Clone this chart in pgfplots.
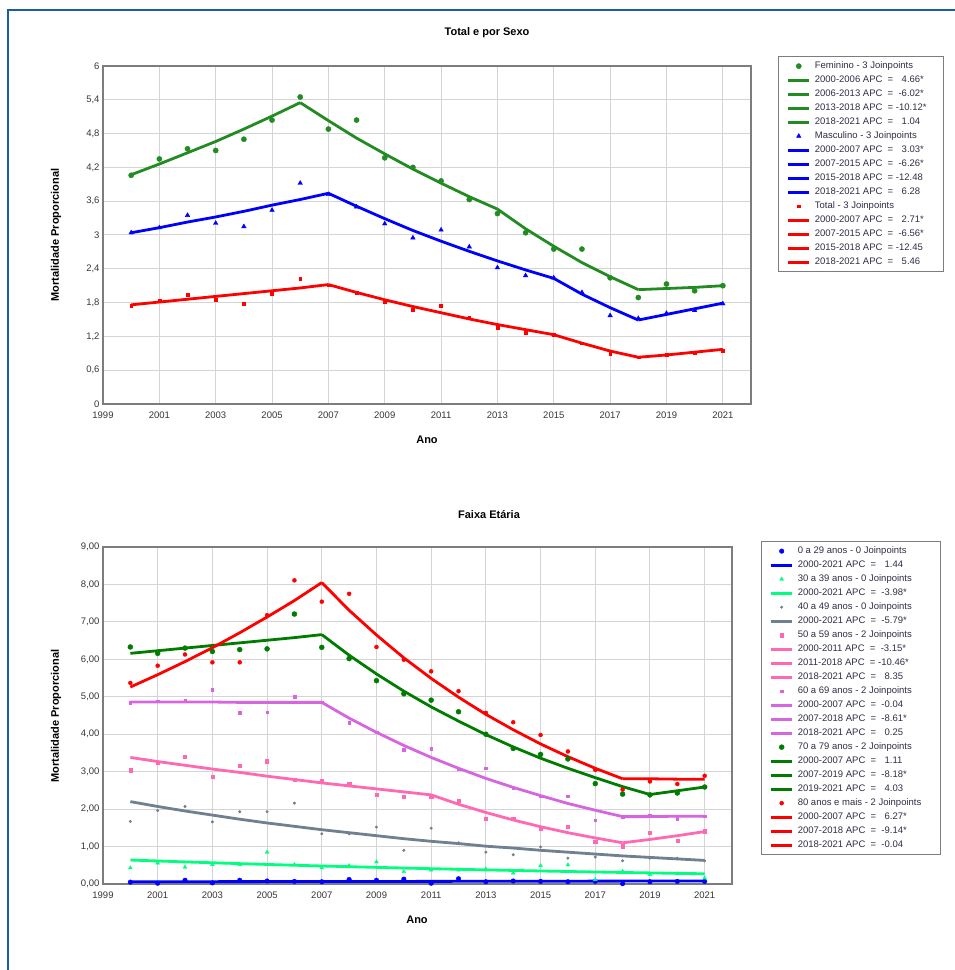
\documentclass[border=0pt]{standalone}
\usepackage{pgfplots}
\pgfplotsset{compat=1.18}
\usepackage{fontspec}
\setmainfont{Liberation Sans}
\definecolor{fgreen}{RGB}{34,139,34}
\definecolor{dgreen}{RGB}{0,125,0}
\definecolor{mblue}{RGB}{0,0,255}
\definecolor{mred}{RGB}{255,0,0}
\definecolor{sgreen}{RGB}{0,255,127}
\definecolor{sgray}{RGB}{112,128,144}
\definecolor{hpink}{RGB}{255,105,180}
\definecolor{orch}{RGB}{214,102,224}
\definecolor{gridcol}{RGB}{212,212,212}
\definecolor{axiscol}{RGB}{125,125,125}
\definecolor{labelcol}{RGB}{55,55,55}
\definecolor{legtext}{RGB}{50,45,70}
\definecolor{framecol}{RGB}{28,92,165}
\pgfplotsset{
  lineleg/.style={legend image code/.code={\draw[##1,line width=3.2pt] (0pt,0pt) -- (21pt,0pt);}},
  markleg/.style={legend image code/.code={\draw[##1,line width=0.4pt] plot coordinates {(10.5pt,0pt)};}},
  common/.style={scale only axis, xmin=1999, xmax=2022, xtick={1999,2001,...,2021},
    grid=major, grid style={gridcol, line width=1pt},
    axis line style={axiscol, line width=1.5pt}, major tick length=0pt,
    tick label style={font=\fontsize{9.5}{11}\selectfont, text=labelcol},
    /pgf/number format/assume math mode=true,
    xticklabel style={/pgf/number format/1000 sep={}, yshift=-4pt},
    legend cell align=left,
    legend style={draw=axiscol, line width=1.3pt, font=\fontsize{9.5}{11}\selectfont, text=legtext,
      nodes={inner sep=0pt, text height=7pt, text depth=2pt}, row sep=5pt,
      inner xsep=8pt, inner ysep=5pt, column sep=4pt},
  },
  tl/.style={line width=2.8pt, lineleg, mark=none},
}
\begin{document}
\begin{tikzpicture}[x=1pt,y=1pt]
\fill[white] (0,0) rectangle (955,970);
\useasboundingbox (0,0) rectangle (955,970);
\draw[framecol, line width=2.5pt] (8,0) -- (8,960) -- (956,960);

\node[font=\bfseries\fontsize{11}{13}\selectfont] at (487,937) {Total e por Sexo};
\node[font=\bfseries\fontsize{11}{13}\selectfont] at (427,530) {Ano};
\node[font=\bfseries\fontsize{11}{13}\selectfont, rotate=90] at (56,735) {Mortalidade Proporcional};

\node[font=\bfseries\fontsize{11}{13}\selectfont] at (489,455) {Faixa Etária};
\node[font=\bfseries\fontsize{11}{13}\selectfont] at (417,50) {Ano};
\node[font=\bfseries\fontsize{11}{13}\selectfont, rotate=90] at (56,254) {Mortalidade Proporcional};

% ---------------- Top ----------------
\begin{axis}[common, at={(103pt,566pt)}, anchor=south west, width=648pt, height=338pt,
  ymin=0, ymax=6, ytick={0,0.6,...,6.01},
  yticklabel style={/pgf/number format/.cd, fixed, precision=1, use comma},
  legend style={at={(1.0417,1.0296)}, anchor=north west}]
\addplot[only marks, mark=*, mark size=2.6pt, fgreen, markleg] coordinates {
(2000,4.06)(2001,4.35)(2002,4.53)(2003,4.50)(2004,4.70)(2005,5.04)(2006,5.45)(2007,4.88)(2008,5.04)(2009,4.37)(2010,4.20)(2011,3.96)(2012,3.63)(2013,3.38)(2014,3.04)(2015,2.75)(2016,2.75)(2017,2.24)(2018,1.89)(2019,2.13)(2020,2.01)(2021,2.10)};
\addlegendentry{Feminino - 3 Joinpoints}
\addplot[tl, fgreen] coordinates {(2000,4.07)(2001,4.26)(2002,4.46)(2003,4.66)(2004,4.88)(2005,5.11)(2006,5.35)};
\addlegendentry{2000-2006 APC \ = \ \phantom{-}4.66*}
\addplot[tl, fgreen] coordinates {(2006,5.35)(2007,5.03)(2008,4.72)(2009,4.44)(2010,4.17)(2011,3.92)(2012,3.68)(2013,3.46)};
\addlegendentry{2006-2013 APC \ = \ -6.02*}
\addplot[tl, fgreen] coordinates {(2013,3.46)(2014,3.11)(2015,2.80)(2016,2.51)(2017,2.26)(2018,2.03)};
\addlegendentry{2013-2018 APC \ = -10.12*\hspace*{9pt}}
\addplot[tl, fgreen] coordinates {(2018,2.03)(2019,2.05)(2020,2.07)(2021,2.10)};
\addlegendentry{2018-2021 APC \ = \ \phantom{-}1.04}

\addplot[only marks, mark=triangle*, mark size=2.6pt, mblue, markleg] coordinates {
(2000,3.04)(2001,3.13)(2002,3.35)(2003,3.21)(2004,3.15)(2005,3.44)(2006,3.92)(2007,3.72)(2008,3.50)(2009,3.20)(2010,2.95)(2011,3.09)(2012,2.79)(2013,2.42)(2014,2.28)(2015,2.24)(2016,1.98)(2017,1.57)(2018,1.52)(2019,1.61)(2020,1.66)(2021,1.78)};
\addlegendentry{Masculino - 3 Joinpoints}
\addplot[tl, mblue] coordinates {(2000,3.04)(2001,3.13)(2002,3.23)(2003,3.32)(2004,3.42)(2005,3.53)(2006,3.63)(2007,3.74)};
\addlegendentry{2000-2007 APC \ = \ \phantom{-}3.03*}
\addplot[tl, mblue] coordinates {(2007,3.74)(2008,3.51)(2009,3.29)(2010,3.08)(2011,2.89)(2012,2.71)(2013,2.54)(2014,2.38)(2015,2.23)};
\addlegendentry{2007-2015 APC \ = \ -6.26*}
\addplot[tl, mblue] coordinates {(2015,2.23)(2016,1.95)(2017,1.71)(2018,1.49)};
\addlegendentry{2015-2018 APC \ = -12.48}
\addplot[tl, mblue] coordinates {(2018,1.49)(2019,1.59)(2020,1.69)(2021,1.79)};
\addlegendentry{2018-2021 APC \ = \ \phantom{-}6.28}

\addplot[only marks, mark=square*, mark size=1.4pt, mred, markleg] coordinates {
(2000,1.75)(2001,1.84)(2002,1.94)(2003,1.85)(2004,1.78)(2005,1.96)(2006,2.23)(2007,2.11)(2008,1.98)(2009,1.81)(2010,1.67)(2011,1.74)(2012,1.54)(2013,1.35)(2014,1.27)(2015,1.23)(2016,1.08)(2017,0.89)(2018,0.83)(2019,0.87)(2020,0.90)(2021,0.95)};
\addlegendentry{Total - 3 Joinpoints}
\addplot[tl, mred] coordinates {(2000,1.76)(2001,1.81)(2002,1.86)(2003,1.91)(2004,1.96)(2005,2.01)(2006,2.06)(2007,2.12)};
\addlegendentry{2000-2007 APC \ = \ \phantom{-}2.71*}
\addplot[tl, mred] coordinates {(2007,2.12)(2008,1.98)(2009,1.85)(2010,1.73)(2011,1.62)(2012,1.51)(2013,1.41)(2014,1.32)(2015,1.23)};
\addlegendentry{2007-2015 APC \ = \ -6.56*}
\addplot[tl, mred] coordinates {(2015,1.23)(2016,1.08)(2017,0.94)(2018,0.83)};
\addlegendentry{2015-2018 APC \ = -12.45}
\addplot[tl, mred] coordinates {(2018,0.83)(2019,0.87)(2020,0.92)(2021,0.97)};
\addlegendentry{2018-2021 APC \ = \ \phantom{-}5.46}
\end{axis}

% ---------------- Bottom ----------------
\begin{axis}[common, at={(103pt,86pt)}, anchor=south west, width=629pt, height=337pt,
  ymin=0, ymax=9, ytick={0,1,...,9},
  yticklabel style={/pgf/number format/.cd, fixed, fixed zerofill, precision=2, use comma},
  legend style={at={(1.046,1.0178)}, anchor=north west}]
% 0-29
\addplot[only marks, mark=*, mark size=2.3pt, mblue, markleg] coordinates {
(2000,0.05)(2001,0.02)(2002,0.10)(2003,0.03)(2004,0.10)(2005,0.08)(2006,0.07)(2007,0.06)(2008,0.12)(2009,0.10)(2010,0.13)(2011,0.02)(2012,0.14)(2013,0.06)(2014,0.08)(2015,0.07)(2016,0.06)(2017,0.07)(2018,0.01)(2019,0.06)(2020,0.07)(2021,0.07)};
\addlegendentry{0 a 29 anos - 0 Joinpoints}
\addplot[tl, mblue] coordinates {(2000,0.060)(2007,0.066)(2014,0.073)(2021,0.081)};
\addlegendentry{2000-2021 APC \ = \ \phantom{-}1.44}
% 30-39
\addplot[only marks, mark=triangle*, mark size=2.2pt, sgreen, markleg] coordinates {
(2000,0.43)(2001,0.56)(2002,0.45)(2003,0.52)(2004,0.52)(2005,0.85)(2006,0.52)(2007,0.43)(2008,0.49)(2009,0.59)(2010,0.33)(2011,0.37)(2012,0.37)(2013,0.40)(2014,0.29)(2015,0.49)(2016,0.51)(2017,0.12)(2018,0.34)(2019,0.25)(2020,0.27)(2021,0.16)};
\addlegendentry{30 a 39 anos - 0 Joinpoints}
\addplot[tl, sgreen] coordinates {(2000,0.640)(2001,0.615)(2002,0.590)(2003,0.567)(2004,0.544)(2005,0.522)(2006,0.501)(2007,0.481)(2008,0.462)(2009,0.444)(2010,0.426)(2011,0.409)(2012,0.393)(2013,0.377)(2014,0.362)(2015,0.348)(2016,0.334)(2017,0.321)(2018,0.308)(2019,0.296)(2020,0.284)(2021,0.273)};
\addlegendentry{2000-2021 APC \ = \ -3.98*}
% 40-49
\addplot[only marks, mark=*, mark size=1.3pt, sgray, markleg] coordinates {
(2000,1.67)(2001,1.96)(2002,2.07)(2003,1.66)(2004,1.93)(2005,1.93)(2006,2.16)(2007,1.34)(2008,1.34)(2009,1.52)(2010,0.90)(2011,1.49)(2012,1.10)(2013,0.85)(2014,0.78)(2015,0.99)(2016,0.69)(2017,0.72)(2018,0.62)(2019,0.69)(2020,0.69)(2021,0.62)};
\addlegendentry{40 a 49 anos - 0 Joinpoints}
\addplot[tl, sgray] coordinates {(2000,2.20)(2001,2.07)(2002,1.95)(2003,1.84)(2004,1.73)(2005,1.63)(2006,1.54)(2007,1.45)(2008,1.37)(2009,1.29)(2010,1.21)(2011,1.14)(2012,1.08)(2013,1.01)(2014,0.96)(2015,0.90)(2016,0.85)(2017,0.80)(2018,0.75)(2019,0.71)(2020,0.67)(2021,0.63)};
\addlegendentry{2000-2021 APC \ = \ -5.79*}
% 50-59
\addplot[only marks, mark=square*, mark size=1.6pt, hpink, markleg] coordinates {
(2000,3.04)(2001,3.24)(2002,3.40)(2003,2.87)(2004,3.16)(2005,3.28)(2006,2.79)(2007,2.76)(2008,2.67)(2009,2.39)(2010,2.34)(2011,2.34)(2012,2.23)(2013,1.74)(2014,1.74)(2015,1.49)(2016,1.54)(2017,1.14)(2018,1.01)(2019,1.36)(2020,1.16)(2021,1.41)};
\addlegendentry{50 a 59 anos - 2 Joinpoints}
\addplot[tl, hpink] coordinates {(2000,3.38)(2001,3.27)(2002,3.17)(2003,3.07)(2004,2.98)(2005,2.88)(2006,2.79)(2007,2.70)(2008,2.62)(2009,2.54)(2010,2.46)(2011,2.38)};
\addlegendentry{2000-2011 APC \ = \ -3.15*}
\addplot[tl, hpink] coordinates {(2011,2.38)(2012,2.13)(2013,1.91)(2014,1.71)(2015,1.53)(2016,1.37)(2017,1.23)(2018,1.10)};
\addlegendentry{2011-2018 APC \ = -10.46*}
\addplot[tl, hpink] coordinates {(2018,1.10)(2019,1.19)(2020,1.29)(2021,1.40)};
\addlegendentry{2018-2021 APC \ = \ \phantom{-}8.35}
% 60-69
\addplot[only marks, mark=square*, mark size=1.3pt, orch, markleg] coordinates {
(2000,4.84)(2001,4.88)(2002,4.90)(2003,5.19)(2004,4.57)(2005,4.59)(2006,5.01)(2007,4.86)(2008,4.30)(2009,4.05)(2010,3.59)(2011,3.62)(2012,3.07)(2013,3.09)(2014,2.56)(2015,2.34)(2016,2.34)(2017,1.70)(2018,1.79)(2019,1.84)(2020,1.75)(2021,1.81)};
\addlegendentry{60 a 69 anos - 2 Joinpoints}
\addplot[tl, orch] coordinates {(2000,4.86)(2001,4.86)(2002,4.86)(2003,4.86)(2004,4.85)(2005,4.85)(2006,4.85)(2007,4.85)};
\addlegendentry{2000-2007 APC \ = \ -0.04}
\addplot[tl, orch] coordinates {(2007,4.85)(2008,4.43)(2009,4.05)(2010,3.70)(2011,3.38)(2012,3.09)(2013,2.82)(2014,2.58)(2015,2.36)(2016,2.15)(2017,1.97)(2018,1.80)};
\addlegendentry{2007-2018 APC \ = \ -8.61*}
\addplot[tl, orch] coordinates {(2018,1.80)(2019,1.80)(2020,1.81)(2021,1.81)};
\addlegendentry{2018-2021 APC \ = \ \phantom{-}0.25}
% 70-79
\addplot[only marks, mark=*, mark size=2.5pt, dgreen, markleg] coordinates {
(2000,6.33)(2001,6.16)(2002,6.30)(2003,6.21)(2004,6.26)(2005,6.28)(2006,7.21)(2007,6.32)(2008,6.02)(2009,5.43)(2010,5.08)(2011,4.91)(2012,4.60)(2013,4.00)(2014,3.62)(2015,3.46)(2016,3.34)(2017,2.68)(2018,2.40)(2019,2.38)(2020,2.43)(2021,2.59)};
\addlegendentry{70 a 79 anos - 2 Joinpoints}
\addplot[tl, dgreen] coordinates {(2000,6.16)(2001,6.23)(2002,6.30)(2003,6.37)(2004,6.44)(2005,6.51)(2006,6.58)(2007,6.66)};
\addlegendentry{2000-2007 APC \ = \ \phantom{-}1.11}
\addplot[tl, dgreen] coordinates {(2007,6.66)(2008,6.11)(2009,5.61)(2010,5.15)(2011,4.73)(2012,4.35)(2013,3.99)(2014,3.66)(2015,3.36)(2016,3.09)(2017,2.84)(2018,2.60)(2019,2.39)};
\addlegendentry{2007-2019 APC \ = \ -8.18*}
\addplot[tl, dgreen] coordinates {(2019,2.39)(2020,2.49)(2021,2.59)};
\addlegendentry{2019-2021 APC \ = \ \phantom{-}4.03}
% 80+
\addplot[only marks, mark=*, mark size=2pt, mred, markleg] coordinates {
(2000,5.37)(2001,5.83)(2002,6.13)(2003,5.92)(2004,5.92)(2005,7.18)(2006,8.11)(2007,7.54)(2008,7.75)(2009,6.33)(2010,5.99)(2011,5.68)(2012,5.15)(2013,4.57)(2014,4.32)(2015,3.98)(2016,3.54)(2017,3.05)(2018,2.52)(2019,2.74)(2020,2.67)(2021,2.89)};
\addlegendentry{80 anos e mais - 2 Joinpoints\hspace*{11pt}}
\addplot[tl, mred] coordinates {(2000,5.26)(2001,5.59)(2002,5.94)(2003,6.31)(2004,6.71)(2005,7.13)(2006,7.57)(2007,8.05)};
\addlegendentry{2000-2007 APC \ = \ \phantom{-}6.27*}
\addplot[tl, mred] coordinates {(2007,8.05)(2008,7.31)(2009,6.65)(2010,6.04)(2011,5.49)(2012,4.99)(2013,4.53)(2014,4.12)(2015,3.74)(2016,3.40)(2017,3.09)(2018,2.81)};
\addlegendentry{2007-2018 APC \ = \ -9.14*}
\addplot[tl, mred] coordinates {(2018,2.81)(2019,2.81)(2020,2.80)(2021,2.80)};
\addlegendentry{2018-2021 APC \ = \ -0.04}
\end{axis}
\end{tikzpicture}
\end{document}
